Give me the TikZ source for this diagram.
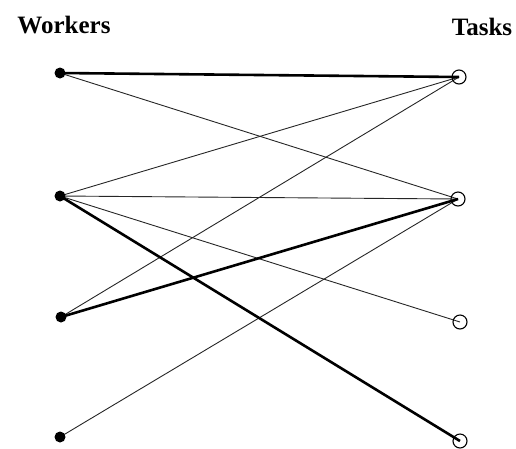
\documentclass[tikz,border=0pt]{standalone}
\usepackage{fontspec}
\setmainfont{Liberation Serif}
\begin{document}
\begin{tikzpicture}[x=1pt,y=-1pt,
  worker/.style={circle,fill=black,inner sep=0pt,minimum size=11pt},
  task/.style={circle,draw=black,line width=1.1pt,inner sep=0pt,minimum size=14pt},
  header/.style={font=\bfseries\fontsize{25}{29}\selectfont,anchor=base,inner sep=0pt},
  thin edge/.style={line width=0.9pt,draw=black!85},
  heavy edge/.style={line width=2.6pt,draw=black}]
\useasboundingbox (0,0) rectangle (516,448);
\node[header] (hw) at (64,33) {Workers};
\node[header] (ht) at (482,35) {Tasks};
% centres of the vertices
\coordinate (w1) at (60,73);
\coordinate (w2) at (60,196);
\coordinate (w3) at (61,317);
\coordinate (w4) at (60,437);
\coordinate (t1) at (459,77);
\coordinate (t2) at (458,199);
\coordinate (t3) at (460,322);
\coordinate (t4) at (460,441);
% edges
\draw[thin edge] (w1) -- (t2);
\draw[thin edge] (w2) -- (t1);
\draw[thin edge] (w2) -- (t2);
\draw[thin edge] (w2) -- (t3);
\draw[thin edge] (w3) -- (t1);
\draw[thin edge] (w4) -- (t2);
\draw[heavy edge] (w1) -- (t1);
\draw[heavy edge] (w2) -- (t4);
\draw[heavy edge] (w3) -- (t2);
% vertices
\foreach \i in {1,...,4} {
  \node[worker] (W\i) at (w\i) {};
  \node[task] (T\i) at (t\i) {};
}
\end{tikzpicture}
\end{document}
